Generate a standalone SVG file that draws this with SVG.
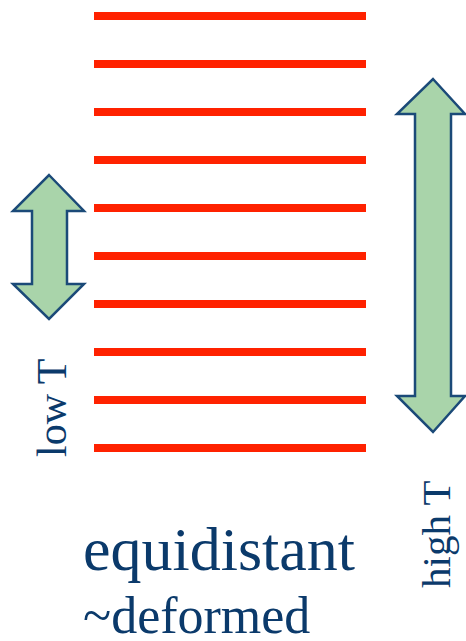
<svg xmlns="http://www.w3.org/2000/svg" width="466" height="641" viewBox="0 0 466 641">
<style>
.ln{stroke:#ff2200;stroke-width:8;}
.ar{fill:#a9d4aa;stroke:#1b4a78;stroke-width:2.5;stroke-linejoin:miter;}
.t{font-family:'Liberation Serif','DejaVu Serif',serif;fill:#0b3a6b;}
</style>
<rect width="466" height="641" fill="#ffffff"/>
<g id="lines">
<line class="ln" x1="94" y1="16" x2="366" y2="16"/>
<line class="ln" x1="94" y1="64" x2="366" y2="64"/>
<line class="ln" x1="94" y1="112" x2="366" y2="112"/>
<line class="ln" x1="94" y1="160" x2="366" y2="160"/>
<line class="ln" x1="94" y1="208" x2="366" y2="208"/>
<line class="ln" x1="94" y1="256" x2="366" y2="256"/>
<line class="ln" x1="94" y1="304" x2="366" y2="304"/>
<line class="ln" x1="94" y1="352" x2="366" y2="352"/>
<line class="ln" x1="94" y1="400" x2="366" y2="400"/>
<line class="ln" x1="94" y1="448" x2="366" y2="448"/>
</g>
<g id="low-arrow">
<path class="ar" d="M49,175 L84,211 L67,211 L67,284 L84,284 L49,319 L13,284 L32,284 L32,211 L13,211 Z"/>
</g>
<g id="high-arrow">
<path class="ar" d="M433,79 L465,114 L451,114 L451,396 L465,396 L433,432 L397,396 L415,396 L415,114 L397,114 Z"/>
</g>
<g id="low-label">
<text class="t" font-family="Liberation Serif, serif" font-size="42" transform="translate(66,457) rotate(-90)">low T</text>
</g>
<g id="high-label">
<text class="t" font-family="Liberation Serif, serif" font-size="41" transform="translate(450,588) rotate(-90)">high T</text>
</g>
<g id="caption">
<text class="t" font-family="Liberation Serif, serif" x="83" y="570" font-size="62">equidistant</text>
<text class="t" font-family="Liberation Serif, serif" x="83" y="633" font-size="52">~deformed</text>
</g>
</svg>
